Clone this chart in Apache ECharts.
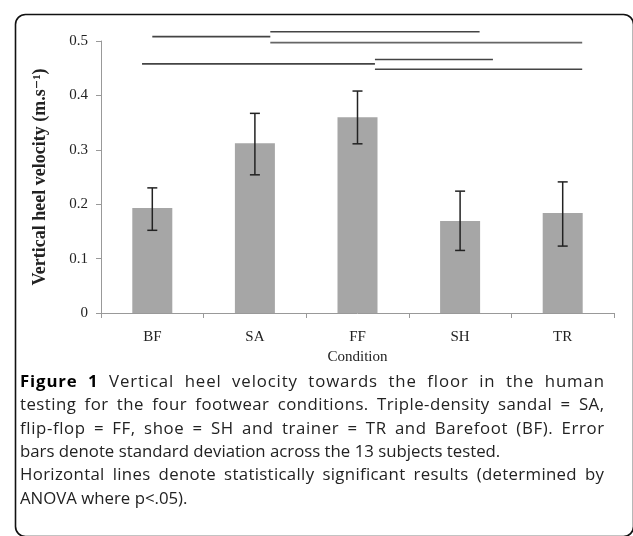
<!DOCTYPE html>
<html>
<head>
<meta charset="utf-8">
<script src="https://cdn.jsdelivr.net/npm/echarts@6/dist/echarts.min.js"></script>
<style>
html,body{margin:0;padding:0;background:#fff;}
#chart{width:633px;height:536px;}
</style>
</head>
<body>
<div id="chart"></div>
<script>
// ---- data ----
var categories = ['BF', 'SA', 'FF', 'SH', 'TR'];
var meanValues = [0.193, 0.312, 0.360, 0.169, 0.184];
var errLow = [0.152, 0.254, 0.311, 0.115, 0.123];
var errHigh = [0.230, 0.367, 0.408, 0.224, 0.241];
var yTicks = [0, 0.1, 0.2, 0.3, 0.4, 0.5];
// significance lines: start / end in category units (0..5) and height
var sigStart = [0.50, 1.65, 1.65, 0.40, 2.67, 2.67];
var sigEnd = [1.65, 3.69, 4.69, 2.67, 3.82, 4.69];
var sigLevel = [0.508, 0.517, 0.497, 0.458, 0.466, 0.448];
var captionLabel = 'Figure 1 ';
var captionLines = [
  'Vertical heel velocity towards the floor in the human',
  'testing for the four footwear conditions. Triple-density sandal = SA,',
  'flip-flop = FF, shoe = SH and trainer = TR and Barefoot (BF). Error',
  'bars denote standard deviation across the 13 subjects tested.',
  'Horizontal lines denote statistically significant results (determined by',
  'ANOVA where p<.05).'
];
var captionJustified = [true, true, true, false, true, false];

var serif = '"Liberation Serif", "DejaVu Serif", serif';
var sans = '"Open Sans", "Noto Sans", sans-serif';
var capSize = 16.8;

var chart = echarts.init(document.getElementById('chart'), null, {renderer: 'canvas'});

var sigSeries = sigStart.map(function (s, i) {
  return {
    type: 'line',
    xAxisIndex: 1,
    yAxisIndex: 0,
    clip: false,
    silent: true,
    symbol: 'none',
    lineStyle: {color: i === 2 ? '#666' : '#444', width: 1.6},
    data: [[s, sigLevel[i]], [sigEnd[i], sigLevel[i]]],
    z: 5
  };
});

// caption layout (justified text: half word spacing, half letter spacing)
var mctx = document.createElement('canvas').getContext('2d');
function measure(t, bold) {
  mctx.font = (bold ? 'bold ' : '') + capSize + 'px ' + sans;
  return mctx.measureText(t).width;
}
var capLeft = 20, capRight = 604, capTop = 382, capStep = 23.4;
var captionGraphics = [];
captionLines.forEach(function (line, i) {
  var chars = [];
  if (i === 0) {
    captionLabel.split('').forEach(function (c) { chars.push({t: c, b: true}); });
  }
  line.split('').forEach(function (c) { chars.push({t: c, b: false}); });
  var widths = chars.map(function (c) { return measure(c.t, c.b); });
  var total = widths.reduce(function (a, b) { return a + b; }, 0);
  var nSpaces = chars.filter(function (c) { return c.t === ' '; }).length;
  var extra = captionJustified[i] ? (capRight - capLeft - total) : 0;
  var ls = extra * 0.5 / (chars.length - 1);
  var ws = nSpaces ? extra * 0.5 / nSpaces : 0;
  var x = capLeft;
  chars.forEach(function (c, k) {
    if (c.t !== ' ') {
      captionGraphics.push({
        type: 'text',
        x: x,
        y: capTop + i * capStep,
        silent: true,
        style: {
          text: c.t,
          fontFamily: sans,
          fontSize: capSize,
          fontWeight: c.b ? 'bold' : 'normal',
          fill: c.b ? '#000' : '#222',
          textAlign: 'left',
          textVerticalAlign: 'middle'
        }
      });
    }
    x += widths[k] + ls + (c.t === ' ' ? ws : 0);
  });
});

var option = {
  backgroundColor: '#fff',
  animation: false,
  grid: {left: 101, right: 19, top: 41, bottom: 223, containLabel: false},
  xAxis: [{
    type: 'category',
    data: categories,
    axisLine: {lineStyle: {color: '#999', width: 1}},
    axisTick: {show: true, alignWithLabel: false, length: 5, lineStyle: {color: '#999'}},
    axisLabel: {fontFamily: serif, fontSize: 15, color: '#222', margin: 17},
    name: 'Condition',
    nameLocation: 'middle',
    nameGap: 34,
    nameTextStyle: {fontFamily: serif, fontSize: 15, color: '#222', letterSpacing: 1.5}
  }, {
    type: 'value',
    min: 0, max: 5,
    show: false
  }],
  yAxis: [{
    type: 'value',
    min: yTicks[0],
    max: yTicks[yTicks.length - 1],
    interval: 0.1,
    axisLine: {show: true, lineStyle: {color: '#999', width: 1}},
    axisTick: {show: true, length: 5, lineStyle: {color: '#999'}},
    splitLine: {show: false},
    axisLabel: {fontFamily: serif, fontSize: 15, color: '#222', margin: 13},
    name: 'Vertical heel velocity (m.s\u207B\u00B9)',
    nameLocation: 'middle',
    nameGap: 52,
    nameTextStyle: {fontFamily: serif, fontSize: 18, fontWeight: 'bold', color: '#222'}
  }],
  series: [{
    type: 'bar',
    data: meanValues,
    barWidth: 40,
    itemStyle: {color: '#a6a6a6'},
    silent: true
  }, {
    type: 'custom',
    data: categories.map(function (c, i) { return [i, errLow[i], errHigh[i]]; }),
    renderItem: function (params, api) {
      var x = api.value(0);
      var lo = api.coord([x, api.value(1)]);
      var hi = api.coord([x, api.value(2)]);
      var hw = 5;
      var st = {stroke: '#222', lineWidth: 1.5};
      return {
        type: 'group',
        children: [
          {type: 'line', shape: {x1: lo[0], y1: lo[1], x2: hi[0], y2: hi[1]}, style: st},
          {type: 'line', shape: {x1: lo[0] - hw, y1: lo[1], x2: lo[0] + hw, y2: lo[1]}, style: st},
          {type: 'line', shape: {x1: hi[0] - hw, y1: hi[1], x2: hi[0] + hw, y2: hi[1]}, style: st}
        ]
      };
    },
    z: 10
  }].concat(sigSeries),
  graphic: [{
    type: 'rect',
    left: 13, top: 12,
    shape: {width: 618, height: 522, r: 10},
    style: {fill: 'none', stroke: '#111', lineWidth: 1.6},
    silent: true
  }].concat(captionGraphics)
};
chart.setOption(option);
</script>
</body>
</html>
